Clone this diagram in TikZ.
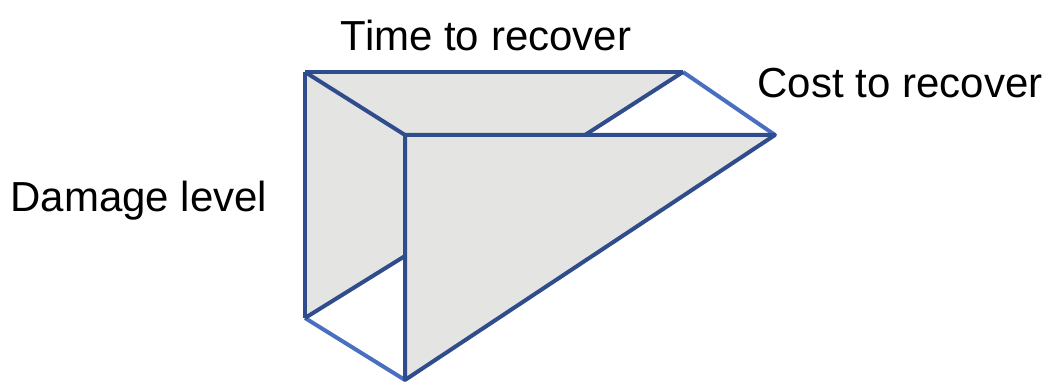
\documentclass[tikz,border=0pt]{standalone}
\usepackage{fontspec}
\setmainfont{Liberation Sans}
\definecolor{edgedark}{HTML}{2F4C8C}
\definecolor{edgelight}{HTML}{4A6EC0}
\definecolor{facegray}{HTML}{E4E4E2}
\tikzset{
  face/.style={fill=facegray, draw=none},
  inner edge/.style={draw=edgedark, line width=2pt, line join=round},
  outer edge/.style={draw=edgelight, line width=2pt, line join=round},
  axislabel/.style={inner sep=0pt, font=\fontsize{21}{25}\selectfont}
}
\begin{document}
\begin{tikzpicture}[x=0.5pt, y=-0.5pt]
            \useasboundingbox (0,0) rectangle (1050,383);
            % corners of the prism
            \coordinate (A) at (305,72);
            \coordinate (B) at (683,72);
            \coordinate (C) at (405,135);
            \coordinate (D) at (775,135);
            \coordinate (E) at (305,318);
            \coordinate (F) at (405,380);
            \coordinate (G) at (585,135);
            \coordinate (H) at (405,256);

            % shaded faces
            \fill[face] (A) -- (B) -- (G) -- (C) -- cycle;
            \fill[face] (A) -- (C) -- (H) -- (E) -- cycle;
            \fill[face] (C) -- (D) -- (F) -- cycle;

            \draw[outer edge] (B) -- (D);
            \draw[outer edge] (E) -- (F);
            \draw[inner edge] (B) -- (G);
            \draw[inner edge] (E) -- (H);
            \draw[inner edge] (A) -- (B);
            \draw[inner edge] (A) -- (C);
            \draw[inner edge] (A) -- (E);
            \draw[inner edge] (C) -- (D) -- (F) -- cycle;

            \node[axislabel] (time) at (486,35) {Time to recover};
            \node[axislabel] (cost) at (900,83) {Cost to recover};
            \node[axislabel] (damage) at (139,201) {Damage level};
\end{tikzpicture}
\end{document}
